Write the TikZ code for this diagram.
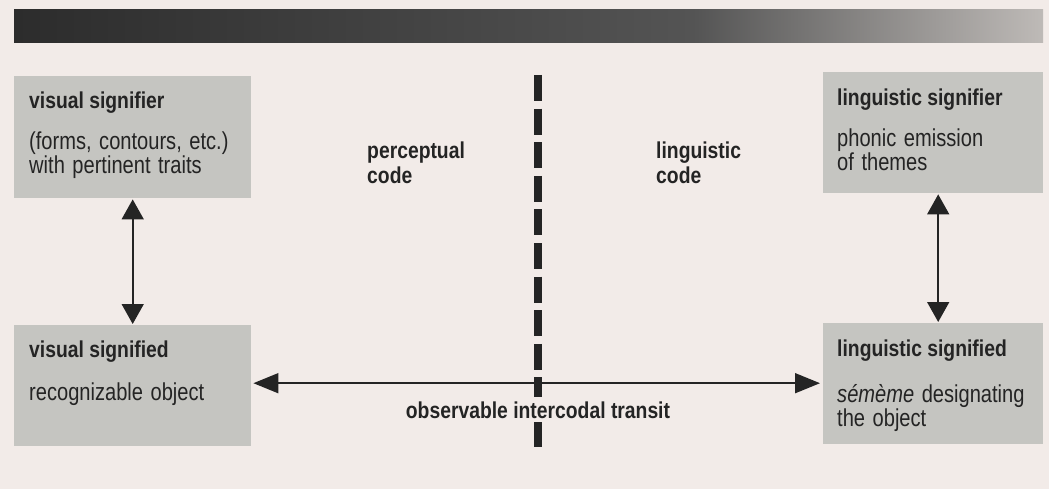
\documentclass[tikz,border=0pt]{standalone}
\usepackage{fontspec}
\newfontfamily\headfont[FakeStretch=0.84]{Liberation Sans}
\newfontfamily\bodyfont[FakeStretch=0.82, WordSpace=1.35]{Liberation Sans}
\usetikzlibrary{arrows.meta,calc}

\definecolor{paper}{RGB}{242,235,232}
\definecolor{panelgray}{RGB}{197,197,193}
\definecolor{ink}{RGB}{36,36,36}
\definecolor{barA}{RGB}{44,44,44}
\definecolor{barB}{RGB}{84,84,84}
\definecolor{barC}{RGB}{190,186,183}

% halftone-like header band: dark on the left, fading out to the right
\pgfdeclarehorizontalshading{headerband}{100bp}{%
  color(0bp)=(barA); color(25bp)=(barA); color(58bp)=(barB);
  color(75bp)=(barC); color(100bp)=(barC)}

\tikzset{
  panel/.style={fill=panelgray, draw=none, inner sep=0pt, anchor=north west},
  headtext/.style={anchor=base west, inner sep=0pt, text=ink,
    font={\headfont\bfseries\fontsize{23}{26}\selectfont}},
  bodytext/.style={anchor=base west, inner sep=0pt, text=ink,
    font={\bodyfont\fontsize{24.5}{26}\selectfont}},
  codetext/.style={headtext},
  biarrowH/.style={draw=ink, line width=1.6pt,
    {Triangle[length=25pt,width=20pt]}-{Triangle[length=25pt,width=20pt]}},
  biarrowV/.style={draw=ink, line width=1.6pt,
    {Triangle[length=20pt,width=22pt]}-{Triangle[length=20pt,width=22pt]}},
  divider/.style={draw=ink, line width=7.5pt},
}

\begin{document}
\begin{tikzpicture}[x=1pt,y=-1pt]
  % page background and fixed frame
  \fill[paper] (0,0) rectangle (1049,489);
  \useasboundingbox (0,0) rectangle (1049,489);

  % header band
  \shade[shading=headerband] (14,10) rectangle (1043,43);

  % the four panels
  \node[panel, minimum width=237pt, minimum height=122pt] (vsr) at (14,76) {};
  \node[panel, minimum width=237pt, minimum height=121pt] (vsd) at (14,325) {};
  \node[panel, minimum width=220pt, minimum height=121pt] (lsr) at (823,72) {};
  \node[panel, minimum width=220pt, minimum height=121pt] (lsd) at (823,323) {};

  % panel texts
  \node[headtext] (vsrH)  at ($(vsr.north west)+(15,33)$) {visual signifier};
  \node[bodytext] (vsrB1) at ($(vsr.north west)+(15,74)$) {(forms, contours, etc.)};
  \node[bodytext] (vsrB2) at ($(vsr.north west)+(15,98)$) {with pertinent traits};

  \node[headtext] (vsdH)  at ($(vsd.north west)+(15,32)$) {visual signified};
  \node[bodytext] (vsdB1) at ($(vsd.north west)+(15,75)$) {recognizable object};

  \node[headtext] (lsrH)  at ($(lsr.north west)+(14,34)$) {linguistic signifier};
  \node[bodytext] (lsrB1) at ($(lsr.north west)+(14,75)$) {phonic emission};
  \node[bodytext] (lsrB2) at ($(lsr.north west)+(14,99)$) {of themes};

  \node[headtext] (lsdH)  at ($(lsd.north west)+(14,33)$) {linguistic signified};
  \node[bodytext] (lsdB1) at ($(lsd.north west)+(14,79)$) {\itshape sémème\upshape{} designating};
  \node[bodytext] (lsdB2) at ($(lsd.north west)+(14,103)$) {the object};

  % code labels on either side of the divide
  \node[codetext] (pc1) at (367,159) {perceptual};
  \node[codetext] (pc2) at (367,184) {code};
  \node[codetext] (lc1) at (656,159) {linguistic};
  \node[codetext] (lc2) at (656,184) {code};

  % signifier <-> signified
  \draw[biarrowV] ([yshift=-1pt]vsr.south) -- ([yshift=1pt]vsd.north);
  \draw[biarrowV] ([xshift=5pt,yshift=-1pt]lsr.south) -- ([xshift=5pt,yshift=1pt]lsd.north);

  % intercodal transit
  \draw[biarrowH] ([xshift=2pt,yshift=2.5pt]vsd.east) -- ([xshift=-3pt,yshift=0.5pt]lsd.west);

  % dashed divide between the two codes
  \coordinate (divTop) at (538,75);
  \coordinate (divMid) at (538,403);
  \coordinate (divLow) at (538,421);
  \coordinate (divBot) at (538,447);
  \draw[divider, dash pattern=on 26pt off 7.6pt] (divTop) -- (divMid);
  \draw[divider] (divLow) -- (divBot);

  \node[anchor=base, fill=paper, inner xsep=2pt, inner ysep=4pt, text=ink,
        font={\headfont\bfseries\fontsize{23}{26}\selectfont}]
        (transit) at (538,418) {observable intercodal transit};
\end{tikzpicture}
\end{document}
